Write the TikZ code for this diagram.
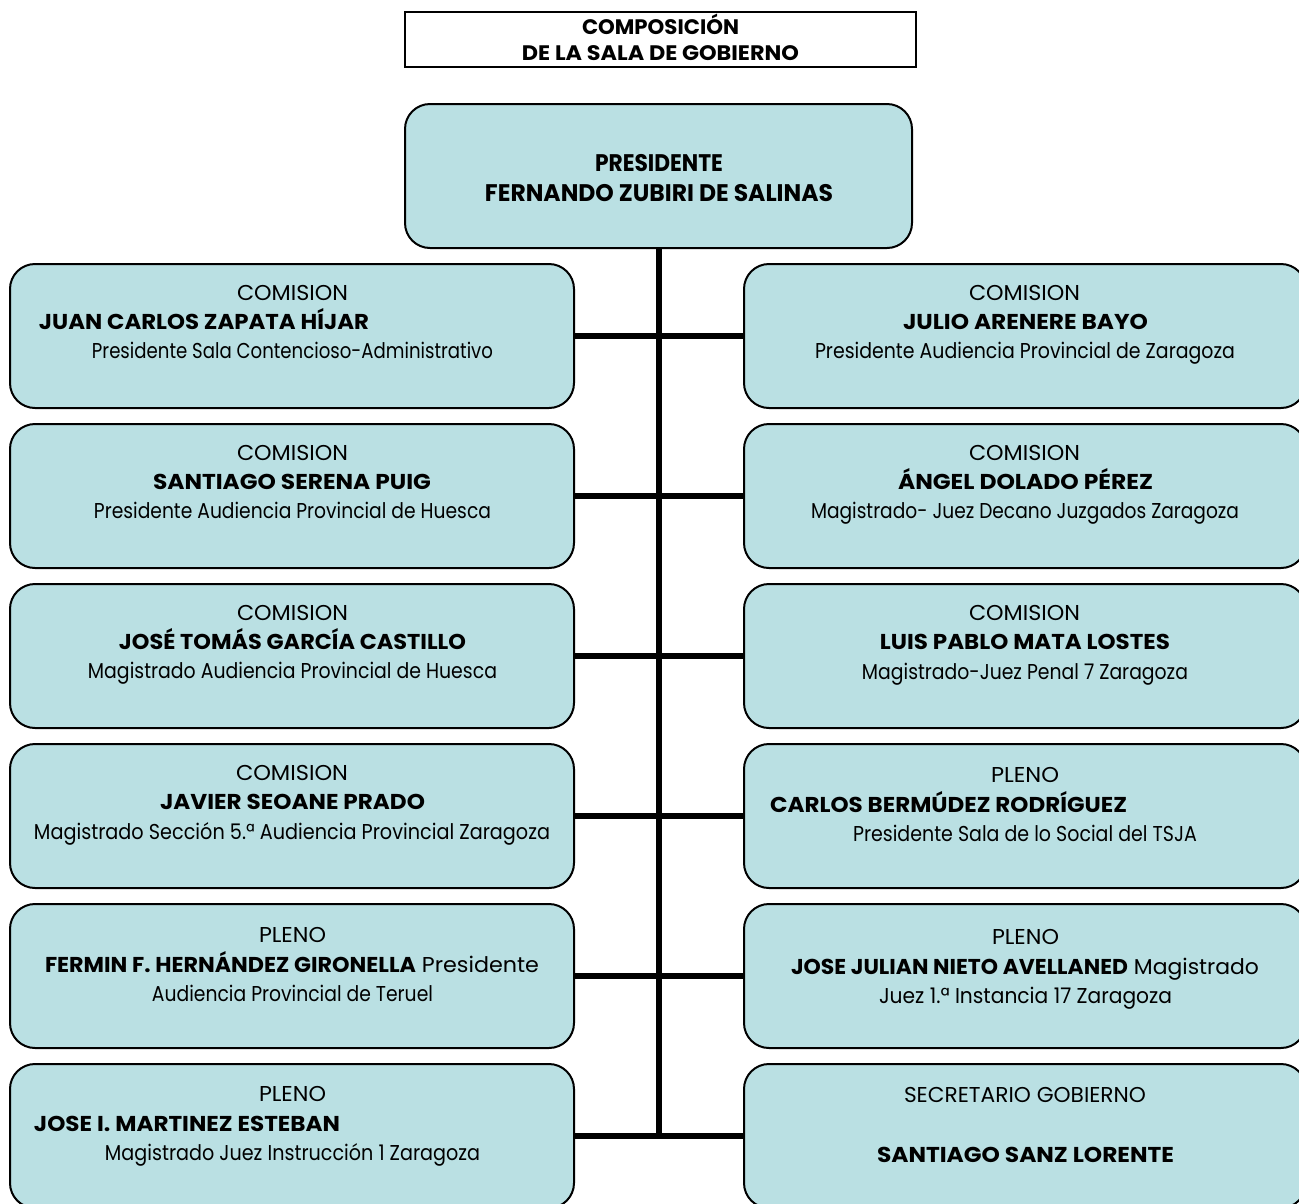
\documentclass[tikz,border=0pt]{standalone}
\usepackage{fontspec}
\usepackage{graphicx}
\setmainfont{Poppins}
\usetikzlibrary{backgrounds}
\definecolor{boxfill}{RGB}{186,224,227}
\newcommand{\fitw}[2]{\resizebox{#1pt}{\height}{#2}}
\newcommand{\tl}[5]{\node[txt] (#1) at (#2,#3) {\fitw{#4}{#5}};}
\tikzset{
  txt/.style={anchor=base, inner sep=0pt, font=\fontsize{21.5}{24}\selectfont},
  card/.style={draw=black, line width=2pt, fill=boxfill, rounded corners=25pt,
               minimum height=144pt, inner sep=0pt},
  lcard/.style={card, minimum width=564pt},
  rcard/.style={card, minimum width=562pt},
  conn/.style={draw=black, line width=6pt},
}
\begin{document}
\begin{tikzpicture}[x=1pt,y=-1pt]
\useasboundingbox (0,0) rectangle (1299,1203);
\clip (0,0) rectangle (1299,1203);
% title
\node[draw=black, line width=2pt, minimum width=511pt, minimum height=55pt, inner sep=0pt] (title) at (660.5,39.5) {};
\node[txt, font=\fontsize{21}{24}\selectfont\bfseries] (t1) at (660.5,34.5) {\fitw{157}{COMPOSICIÓN}};
\node[txt, font=\fontsize{21}{24}\selectfont\bfseries] (t2) at (660.5,60.5) {\fitw{277}{DE LA SALA DE GOBIERNO}};
% president
\node[card, minimum width=507pt] (pres) at (658.5,176) {};
\node[txt, font=\fontsize{24}{28}\selectfont\bfseries] (p1) at (659,171.5) {\fitw{128}{PRESIDENTE}};
\node[txt, font=\fontsize{24}{28}\selectfont\bfseries] (p2) at (659,201.5) {\fitw{348}{FERNANDO ZUBIRI DE SALINAS}};
% boxes
\node[lcard] (L1) at (292,336) {};
\node[lcard] (L2) at (292,496) {};
\node[lcard] (L3) at (292,656) {};
\node[lcard] (L4) at (292,816) {};
\node[lcard] (L5) at (292,976) {};
\node[lcard] (L6) at (292,1136) {};
\node[rcard] (R1) at (1025,336) {};
\node[rcard] (R2) at (1025,496) {};
\node[rcard] (R3) at (1025,656) {};
\node[rcard] (R4) at (1025,816) {};
\node[rcard] (R5) at (1025,976) {};
\node[rcard] (R6) at (1025,1136) {};
% connectors
\begin{pgfonlayer}{background}
\draw[conn] (pres.south) -- (pres.south |- L6.east);
\draw[conn] (L1.east) -- (R1.west);
\draw[conn] (L2.east) -- (R2.west);
\draw[conn] (L3.east) -- (R3.west);
\draw[conn] (L4.east) -- (R4.west);
\draw[conn] (L5.east) -- (R5.west);
\draw[conn] (L6.east) -- (R6.west);
\end{pgfonlayer}
% row 1
\tl{l1a}{292.5}{300.5}{111}{COMISION}
\tl{l1b}{204}{329.5}{330}{\bfseries JUAN CARLOS ZAPATA HÍJAR}
\tl{l1c}{292.5}{358.5}{401}{Presidente Sala Contencioso-Administrativo}
\tl{r1a}{1024.5}{300.5}{111}{COMISION}
\tl{r1b}{1025.5}{329.5}{245}{\bfseries JULIO ARENERE BAYO}
\tl{r1c}{1025}{358.5}{420}{Presidente Audiencia Provincial de Zaragoza}
% row 2
\tl{l2a}{292.5}{460.5}{111}{COMISION}
\tl{l2b}{292}{489.5}{278}{\bfseries SANTIAGO SERENA PUIG}
\tl{l2c}{292.5}{518.5}{397}{Presidente Audiencia Provincial de Huesca}
\tl{r2a}{1024.5}{460.5}{111}{COMISION}
\tl{r2b}{1025.5}{489.5}{255}{\bfseries ÁNGEL DOLADO PÉREZ}
\tl{r2c}{1025}{518.5}{428}{Magistrado- Juez Decano Juzgados Zaragoza}
% row 3
\tl{l3a}{292.5}{620.5}{111}{COMISION}
\tl{l3b}{292.5}{649.5}{347}{\bfseries JOSÉ TOMÁS GARCÍA CASTILLO}
\tl{l3c}{292.5}{678.5}{409}{Magistrado Audiencia Provincial de Huesca}
\tl{r3a}{1024.5}{620.5}{111}{COMISION}
\tl{r3b}{1025}{649.5}{290}{\bfseries LUIS PABLO MATA LOSTES}
\tl{r3c}{1025}{679.5}{326}{Magistrado-Juez Penal 7 Zaragoza}
% row 4
\tl{l4a}{292}{780.5}{112}{COMISION}
\tl{l4b}{292.5}{809.5}{265}{\bfseries JAVIER SEOANE PRADO}
\tl{l4c}{292}{839.5}{516}{Magistrado Sección 5.ª Audiencia Provincial Zaragoza}
\tl{r4a}{1025}{782.5}{68}{PLENO}
\tl{r4b}{948.5}{812.5}{357}{\bfseries CARLOS BERMÚDEZ RODRÍGUEZ}
\tl{r4c}{1025}{841.5}{344}{Presidente Sala de lo Social del TSJA}
% row 5
\tl{l5a}{292.5}{942.5}{67}{PLENO}
\tl{l5b}{292}{972.5}{494}{{\bfseries FERMIN F. HERNÁNDEZ GIRONELLA} Presidente}
\tl{l5c}{292.5}{1001.5}{281}{Audiencia Provincial de Teruel}
\tl{r5a}{1025.5}{944.5}{67}{PLENO}
\tl{r5b}{1025}{974.5}{468}{{\bfseries JOSE JULIAN NIETO AVELLANED} Magistrado}
\tl{r5c}{1025.5}{1003.5}{293}{Juez 1.ª Instancia 17 Zaragoza}
% row 6
\tl{l6a}{292.5}{1101.5}{67}{PLENO}
\tl{l6b}{187}{1131.5}{306}{\bfseries JOSE I. MARTINEZ ESTEBAN}
\tl{l6c}{292.5}{1160.5}{375}{Magistrado Juez Instrucción 1 Zaragoza}
\tl{r6a}{1025}{1102.5}{242}{SECRETARIO GOBIERNO}
\tl{r6b}{1025.5}{1162.5}{297}{\bfseries SANTIAGO SANZ LORENTE}
\end{tikzpicture}
\end{document}
